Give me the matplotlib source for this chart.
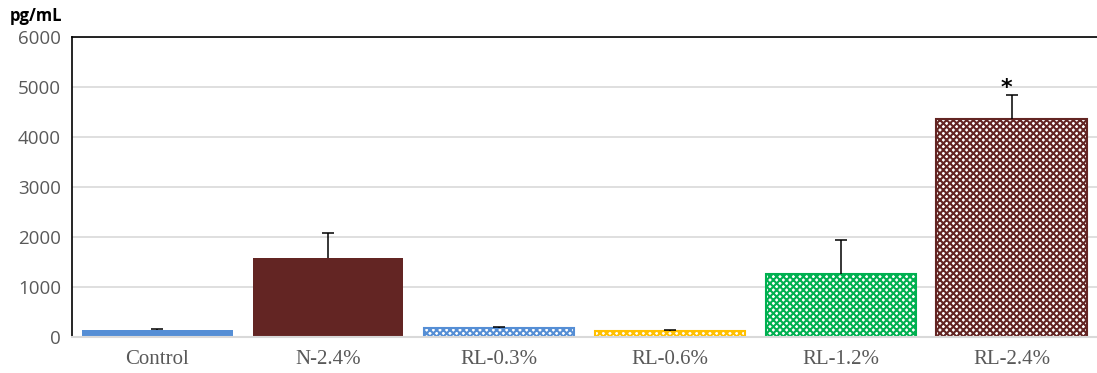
import matplotlib
matplotlib.use("Agg")
import matplotlib.pyplot as plt
import numpy as np

categories = ["Control", "N-2.4%", "RL-0.3%", "RL-0.6%", "RL-1.2%", "RL-2.4%"]
means = [150, 1580, 190, 125, 1270, 4360]
errors = [20, 500, 15, 20, 670, 490]
colors = ["#558ED5", "#632523", "#558ED5", "#FFC000", "#00B050", "#632523"]
patterned = [False, False, True, True, True, True]
y_ticks = [0, 1000, 2000, 3000, 4000, 5000, 6000]
significant = ["", "", "", "", "", "*"]

plt.rcParams["hatch.linewidth"] = 1.5

fig = plt.figure(figsize=(10.97, 3.73), dpi=100)
ax = fig.add_axes([72 / 1097, 36 / 373, 1 - 72 / 1097, 300 / 373])

x = np.arange(len(categories))
width = 0.88
cap = 0.035

for xi, m, c, p in zip(x, means, colors, patterned):
    if p:
        ax.bar(xi, m, width, color="white", edgecolor=c, hatch="xxxxx",
               linewidth=0, zorder=3)
        ax.bar(xi, m, width, fill=False, edgecolor=c, linewidth=1.5, zorder=4)
    else:
        ax.bar(xi, m, width, color=c, linewidth=0, zorder=3)

# upper-only error bars
tops = np.array(means) + np.array(errors)
ax.vlines(x, means, tops, color="black", linewidth=1.1, zorder=5)
ax.hlines(tops, x - cap, x + cap, color="black", linewidth=1.1, zorder=5)

for xi, t, s in zip(x, tops, significant):
    if s:
        ax.text(xi - 0.03, t + 140, s, ha="center", va="center",
                fontsize=16, fontweight="bold", color="black")

ax.set_xlim(-0.5, len(categories) - 0.5)
ax.set_ylim(0, 6000)
ax.set_yticks(y_ticks)
ax.set_yticklabels([str(t) for t in y_ticks], fontsize=13.5, color="#595959",
                   family="Open Sans")
ax.set_xticks(x)
ax.set_xticklabels(categories, fontsize=15, color="#595959",
                   family="Liberation Serif")
ax.tick_params(axis="both", length=0)
ax.tick_params(axis="x", pad=9)
ax.tick_params(axis="y", pad=8)

ax.grid(axis="y", color="#d9d9d9", linewidth=1.2, zorder=0)
ax.set_axisbelow(True)
ax.spines["right"].set_visible(False)
ax.spines["top"].set_color("black")
ax.spines["top"].set_linewidth(1.2)
ax.spines["left"].set_color("black")
ax.spines["left"].set_linewidth(1.2)
ax.spines["bottom"].set_color("#d9d9d9")
ax.spines["bottom"].set_linewidth(1.5)
ax.spines["bottom"].set_zorder(6)

fig.text(10 / 1097, 1 - 16 / 373, "pg/mL", fontsize=12, fontweight="bold",
         family="Open Sans", ha="left", va="center", color="black")

fig.savefig("out.png", dpi=100)
